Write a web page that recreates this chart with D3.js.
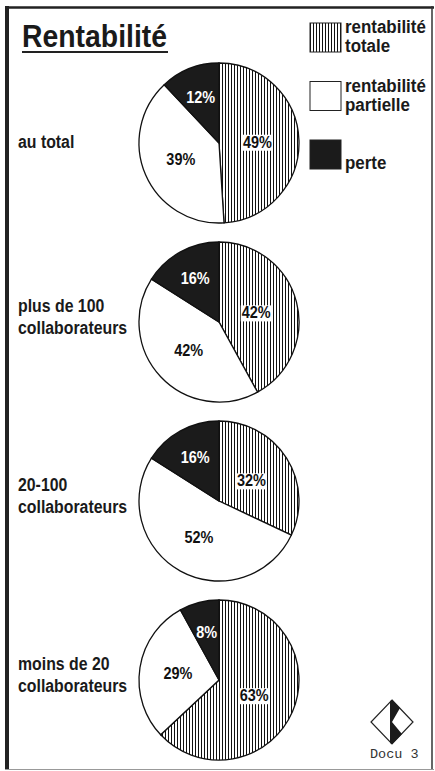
<!DOCTYPE html>
<html>
<head>
<meta charset="utf-8">
<script src="https://cdn.jsdelivr.net/npm/d3@7"></script>
<style>
  html, body { margin: 0; padding: 0; background: #fff; }
  svg { display: block; }
  text { font-family: "Liberation Sans", Arial, sans-serif; font-weight: bold; }
</style>
</head>
<body>
<svg id="chart"></svg>
<script>
// data
const groups = ["au total", "plus de 100 collaborateurs", "20-100 collaborateurs", "moins de 20 collaborateurs"];
const groupLines = [["au total"], ["plus de 100", "collaborateurs"], ["20-100", "collaborateurs"], ["moins de 20", "collaborateurs"]];
const categories = ["rentabilité totale", "rentabilité partielle", "perte"];
const legendLines = [["rentabilité", "totale"], ["rentabilité", "partielle"], ["perte"]];
const totale = [49, 42, 32, 63];
const partielle = [39, 42, 52, 29];
const perte = [12, 16, 16, 8];

const W = 435, H = 771;
const narrow = 0.88; // the print face is a condensed grotesque
let svg = d3.select("#chart").attr("width", W).attr("height", H);

// squeeze a text (or its tspans) horizontally
function condense(t, k) {
  let parts = t.selectAll("tspan");
  let nodes = parts.empty() ? [t.node()] : parts.nodes();
  nodes.forEach(n => {
    let w = n.getComputedTextLength();
    d3.select(n).attr("textLength", w * k).attr("lengthAdjust", "spacingAndGlyphs");
  });
}

// stripes for "rentabilité totale"
let defs = svg.append("defs");
let pat = defs.append("pattern")
  .attr("id", "stripes")
  .attr("patternUnits", "userSpaceOnUse")
  .attr("width", 3).attr("height", 10);
pat.append("rect").attr("width", 3).attr("height", 10).attr("fill", "#fff");
pat.append("rect").attr("width", 1).attr("height", 10).attr("fill", "#111");

const fills = d3.scaleOrdinal().domain(categories).range(["url(#stripes)", "#fff", "#1b1b1b"]);
const labelColor = d3.scaleOrdinal().domain(categories).range(["#111", "#111", "#fff"]);
const labelRadius = d3.scaleOrdinal().domain(categories).range([0.48, 0.52, 0.62]);

// frame
svg.append("line").attr("x1", 7).attr("y1", 6).attr("x2", 7).attr("y2", 770)
  .attr("stroke", "#222").attr("stroke-width", 4);
svg.append("line").attr("x1", 5).attr("y1", 7.5).attr("x2", 434).attr("y2", 7.5)
  .attr("stroke", "#222").attr("stroke-width", 2.5);
svg.append("line").attr("x1", 432).attr("y1", 6).attr("x2", 432).attr("y2", 770)
  .attr("stroke", "#333").attr("stroke-width", 1.5);
svg.append("line").attr("x1", 5).attr("y1", 769.5).attr("x2", 434).attr("y2", 769.5)
  .attr("stroke", "#999").attr("stroke-width", 1);

// title
svg.append("text")
  .attr("x", 22).attr("y", 47)
  .attr("font-size", 31)
  .attr("textLength", 145).attr("lengthAdjust", "spacingAndGlyphs")
  .attr("fill", "#1a1a1a")
  .text("Rentabilité");
svg.append("line").attr("x1", 22).attr("x2", 168).attr("y1", 52).attr("y2", 52)
  .attr("stroke", "#222").attr("stroke-width", 2);

// legend
const ly = d3.scalePoint().domain(categories).range([23, 140]);
let legend = svg.append("g").selectAll("g").data(categories).join("g")
  .attr("transform", d => `translate(310,${ly(d)})`);
legend.append("rect")
  .attr("width", 31).attr("height", 29)
  .attr("fill", d => fills(d))
  .attr("stroke", "#222").attr("stroke-width", 1);
legend.each(function (d, i) {
  let lines = legendLines[i];
  let t = d3.select(this).append("text")
    .attr("x", 35).attr("font-size", 18).attr("fill", "#1a1a1a");
  lines.forEach((s, j) => {
    t.append("tspan").attr("x", 35)
      .attr("y", 29 - (lines.length - 1 - j) * 19)
      .text(s);
  });
  condense(t, 0.94);
});

// pies
const cx = 219, R = 80;
const cy = d3.scalePoint().domain(groups).range([143, 680]);
const pie = d3.pie().sort(null).value(d => d.value);
const arc = d3.arc().innerRadius(0).outerRadius(R);

groups.forEach((grp, gi) => {
  let slices = [
    { cat: categories[0], value: totale[gi] },
    { cat: categories[1], value: partielle[gi] },
    { cat: categories[2], value: perte[gi] }
  ];
  let g = svg.append("g").attr("transform", `translate(${cx},${cy(grp)})`);
  let arcs = pie(slices);

  g.selectAll("path").data(arcs).join("path")
    .attr("d", arc)
    .attr("fill", d => fills(d.data.cat))
    .attr("stroke", "#111").attr("stroke-width", 1.3);

  arcs.forEach(a => {
    let r = R * labelRadius(a.data.cat);
    let c = d3.arc().innerRadius(r).outerRadius(r).centroid(a);
    let lab = g.append("g").attr("transform", `translate(${c[0]},${c[1]})`);
    let t = lab.append("text")
      .attr("text-anchor", "middle").attr("dy", "0.35em")
      .attr("font-size", 17)
      .attr("fill", labelColor(a.data.cat))
      .text(a.data.value + "%");
    condense(t, 0.85);
    if (a.data.cat === categories[0]) {
      let b = t.node().getBBox();
      lab.insert("rect", "text")
        .attr("x", b.x - 1).attr("y", b.y + 2)
        .attr("width", b.width + 2).attr("height", b.height - 3)
        .attr("fill", "#fff");
    }
  });

  // group label
  let lines = groupLines[gi];
  let t = svg.append("text").attr("font-size", 18).attr("fill", "#1a1a1a");
  lines.forEach((s, j) => {
    let off = lines.length === 1 ? 5 : (j === 0 ? -10 : 12);
    t.append("tspan").attr("x", 18).attr("y", cy(grp) + off).text(s);
  });
  condense(t, narrow);
});

// Docu 3 mark
let logo = svg.append("g").attr("transform", "translate(392,722)");
logo.append("path").attr("d", "M0,-22L21,0L0,22L-21,0Z")
  .attr("fill", "#fff").attr("stroke", "#222").attr("stroke-width", 1.2);
logo.append("path").attr("d", "M-2,-21L0,-22L8,-14L0,0L10,12L0,22L-2,21Z")
  .attr("fill", "#1b1b1b");
svg.append("text")
  .attr("x", 370).attr("y", 758)
  .attr("font-size", 13.5).attr("fill", "#333")
  .style("font-family", "'Liberation Mono', 'DejaVu Sans Mono', monospace")
  .style("font-weight", "normal")
  .text("Docu 3");
</script>
</body>
</html>
